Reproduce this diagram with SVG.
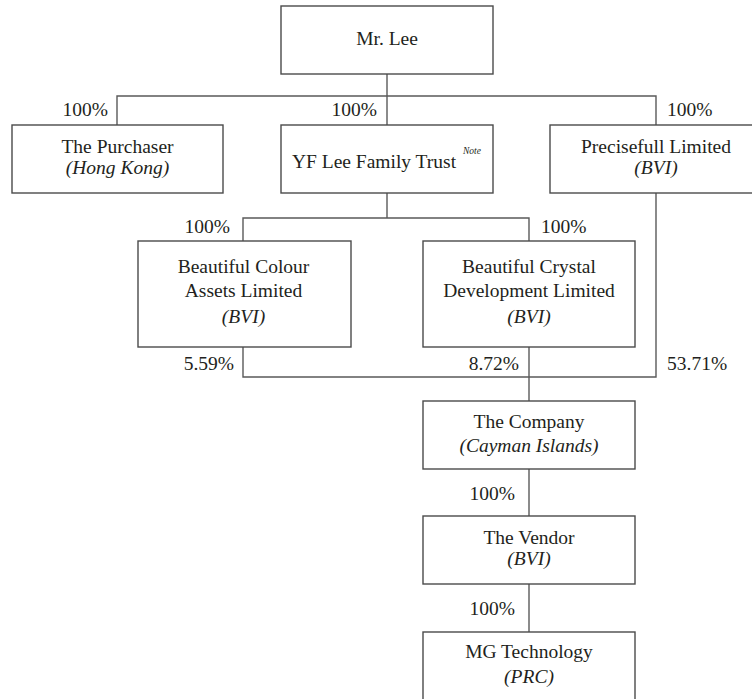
<svg xmlns="http://www.w3.org/2000/svg" width="752" height="699" viewBox="0 0 752 699">
<style>
rect.box{fill:#fff;stroke:#4a4a4a;stroke-width:1.4}
.conn path{fill:none;stroke:#5a5a5a;stroke-width:1.4}
text{font-family:"Liberation Serif","Times New Roman",serif;font-size:19.5px;fill:#231f20}
.c{text-anchor:middle}
.i{font-style:italic}
.r{text-anchor:end}
.note{font-size:9.5px;font-style:italic}
</style>
<rect width="752" height="699" fill="#fff"/>
<g class="conn" id="connectors">
<path d="M387 74V125"/>
<path d="M117 125V96H656V125"/>
<path d="M387 193V218"/>
<path d="M243 241V218H529V241"/>
<path d="M243 347V377H656V193"/>
<path d="M529 347V401"/>
<path d="M529 469V516"/>
<path d="M529 584V632"/>
</g>
<g id="labels">
<text x="108" y="116" class="r">100%</text>
<text x="377" y="116" class="r">100%</text>
<text x="667" y="116">100%</text>
<text x="230" y="233" class="r">100%</text>
<text x="541" y="233">100%</text>
<text x="234" y="370" class="r">5.59%</text>
<text x="519" y="370" class="r">8.72%</text>
<text x="667" y="370">53.71%</text>
<text x="515" y="500" class="r">100%</text>
<text x="515" y="615" class="r">100%</text>
</g>
<g id="mr-lee">
<rect class="box" x="281" y="6" width="212" height="68"/>
<text x="387" y="45" class="c">Mr. Lee</text>
</g>
<g id="purchaser">
<rect class="box" x="12" y="125" width="211" height="68"/>
<text x="117.5" y="153" class="c">The Purchaser</text>
<text x="117.5" y="174" class="c i">(Hong Kong)</text>
</g>
<g id="yf-lee-trust">
<rect class="box" x="281" y="125" width="212" height="68"/>
<text x="374" y="168" class="c">YF Lee Family Trust</text>
<text x="463" y="154" class="note">Note</text>
</g>
<g id="precisefull">
<rect class="box" x="550" y="125" width="210" height="68"/>
<text x="656" y="153" class="c">Precisefull Limited</text>
<text x="656" y="174" class="c i">(BVI)</text>
</g>
<g id="beautiful-colour">
<rect class="box" x="138" y="241" width="213" height="106"/>
<text x="243.5" y="273" class="c">Beautiful Colour</text>
<text x="243.5" y="297" class="c">Assets Limited</text>
<text x="243.5" y="323" class="c i">(BVI)</text>
</g>
<g id="beautiful-crystal">
<rect class="box" x="423" y="241" width="212" height="106"/>
<text x="529" y="273" class="c">Beautiful Crystal</text>
<text x="529" y="297" class="c">Development Limited</text>
<text x="529" y="323" class="c i">(BVI)</text>
</g>
<g id="company">
<rect class="box" x="423" y="401" width="212" height="68"/>
<text x="529" y="428" class="c">The Company</text>
<text x="529" y="452" class="c i">(Cayman Islands)</text>
</g>
<g id="vendor">
<rect class="box" x="423" y="516" width="212" height="68"/>
<text x="529" y="544" class="c">The Vendor</text>
<text x="529" y="565" class="c i">(BVI)</text>
</g>
<g id="mg-technology">
<rect class="box" x="423" y="632" width="212" height="80"/>
<text x="529" y="658" class="c">MG Technology</text>
<text x="529" y="683" class="c i">(PRC)</text>
</g>
</svg>
